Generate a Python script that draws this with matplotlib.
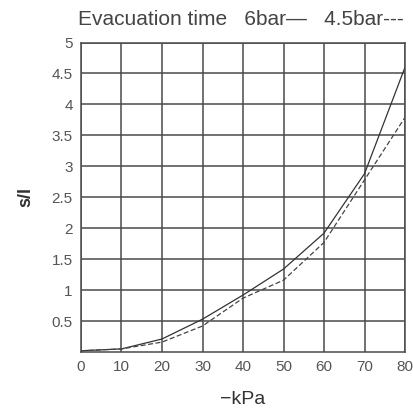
import numpy as np
import matplotlib.pyplot as plt

kpa = [0, 10, 20, 30, 40, 50, 60, 70, 80]
t_6bar = [0.02, 0.05, 0.21, 0.53, 0.92, 1.34, 1.92, 2.88, 4.6]
t_45bar = [0.02, 0.05, 0.16, 0.42, 0.87, 1.16, 1.77, 2.78, 3.79]

xticks = [0, 10, 20, 30, 40, 50, 60, 70, 80]
yticks = [0.5, 1, 1.5, 2, 2.5, 3, 3.5, 4, 4.5, 5]
ytick_labels = ['0.5', '1', '1.5', '2', '2.5', '3', '3.5', '4', '4.5', '5']

plt.rcParams['font.family'] = ['Liberation Sans', 'DejaVu Sans']

fig = plt.figure(figsize=(4.14, 4.13), dpi=100)
ax = fig.add_axes([81 / 414, 61 / 413, 324 / 414, 309.5 / 413])

grid_col = '#4a4a4a'
ax.plot(kpa, t_6bar, color='#333333', lw=0.9)
ax.plot(kpa, t_45bar, color='#444444', lw=0.9, ls=(0, (4, 2)))

ax.set_xlim(0, 80)
ax.set_ylim(0, 5)
ax.set_xticks(xticks)
ax.set_yticks(yticks)
ax.set_yticklabels(ytick_labels)
ax.grid(True, color=grid_col, lw=1.1)
for s in ax.spines.values():
    s.set_color(grid_col)
    s.set_linewidth(1.1)
ax.tick_params(length=0, labelsize=11, labelcolor='#555555', pad=6)

ax.set_xlabel('\u2212kPa', fontsize=14, color='#333333', labelpad=12)
ax.set_ylabel('s/l', fontsize=13, color='#333333', fontweight='bold', labelpad=12)

fig.text(0.582, 0.952, 'Evacuation time   6bar\u2014   4.5bar---', ha='center', va='center',
         fontsize=15, color='#444444')

fig.savefig('out.png', dpi=100, facecolor='white')
